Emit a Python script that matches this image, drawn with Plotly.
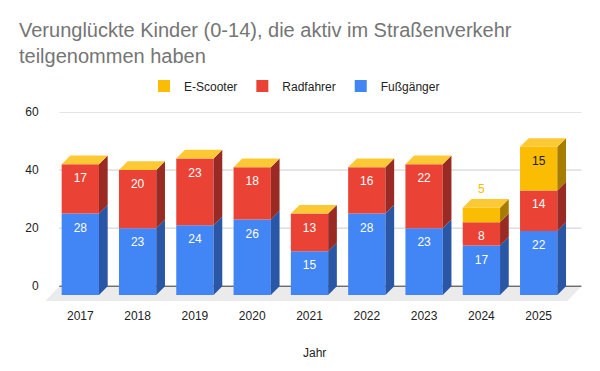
import plotly.graph_objects as go

# ---------------- data ----------------
years = ["2017", "2018", "2019", "2020", "2021", "2022", "2023", "2024", "2025"]
fussgaenger = [28, 23, 24, 26, 15, 28, 23, 17, 22]
radfahrer = [17, 20, 23, 18, 13, 16, 22, 8, 14]
escooter = [0, 0, 0, 0, 0, 0, 0, 5, 15]
y_ticks = [0, 20, 40, 60]

series_names = ["Fußgänger", "Radfahrer", "E-Scooter"]
series_values = [fussgaenger, radfahrer, escooter]

# ---------------- style ----------------
front_colors = ["#4285f4", "#ea4335", "#fbbc04"]
side_colors = ["#2a56a6", "#992b24", "#a67d00"]
label_colors = ["#ffffff", "#ffffff", "#202020"]
top_color = "#fcc934"
FONT = "Liberation Sans, Arial, sans-serif"

# the page body has an 8px default margin; the figure fills the rest of the window
W, H = 592, 363

BAR_W = 0.651          # front face width (category units)
DX = 0.152             # 3D depth, x (category units)
DY = 3.0               # 3D depth, y (value units)
FLOOR_DX = 0.245
FLOOR_DY = 5.1
BACK_LEFT = -0.366
BACK_RIGHT = 8.747
LABEL_OFF = 5.2        # label centre below a segment's front top
MIN_INSIDE = 5.5       # segments smaller than this get their label above

xs = list(range(len(years)))
fig = go.Figure()

# cumulative bases
bases = []
cum = [0] * len(years)
for vals in series_values:
    bases.append(cum[:])
    cum = [c + v for c, v in zip(cum, vals)]
totals = cum

# front faces
for k, (name, vals) in enumerate(zip(series_names, series_values)):
    fig.add_trace(go.Bar(
        x=xs, y=vals, base=[b - DY for b in bases[k]], width=BAR_W,
        name=name, marker=dict(color=front_colors[k], line=dict(width=0)),
        legendrank=10 - k, hoverinfo="skip",
    ))

# side faces
for k, vals in enumerate(series_values):
    px, py = [], []
    for i in xs:
        if vals[i] <= 0:
            continue
        xr = i + BAR_W / 2
        b = bases[k][i] - DY
        t = b + vals[i]
        px += [xr, xr + DX, xr + DX, xr, xr, None]
        py += [b, b + DY, t + DY, t, b, None]
    fig.add_trace(go.Scatter(
        x=px, y=py, mode="lines", fill="toself", fillcolor=side_colors[k],
        line=dict(width=0, color=side_colors[k]), showlegend=False, hoverinfo="skip",
    ))

# top faces
tx, ty = [], []
for i in xs:
    xl = i - BAR_W / 2
    xr = i + BAR_W / 2
    T = totals[i] - DY
    tx += [xl, xl + DX, xr + DX, xr, xl, None]
    ty += [T, T + DY, T + DY, T, T, None]
fig.add_trace(go.Scatter(
    x=tx, y=ty, mode="lines", fill="toself", fillcolor=top_color,
    line=dict(width=0, color=top_color), showlegend=False, hoverinfo="skip",
))

# value labels
for k, vals in enumerate(series_values):
    lx, ly, lt, lc = [], [], [], []
    for i in xs:
        v = vals[i]
        if v <= 0:
            continue
        top_front = bases[k][i] + v - DY
        lx.append(i)
        lt.append(str(v))
        if v < MIN_INSIDE:
            ly.append(totals[i] + 3.0)
            lc.append(front_colors[k])
        else:
            ly.append(top_front - LABEL_OFF)
            lc.append(label_colors[k])
    fig.add_trace(go.Scatter(
        x=lx, y=ly, mode="text", text=lt,
        textfont=dict(family=FONT, size=12, color=lc),
        showlegend=False, hoverinfo="skip",
    ))

# floor, gridlines (background)
shapes = [dict(
    type="path", xref="x", yref="y", layer="below",
    path=(f"M{BACK_LEFT},0 L{BACK_RIGHT},0 L{BACK_RIGHT - FLOOR_DX},{-FLOOR_DY} "
          f"L{BACK_LEFT - FLOOR_DX},{-FLOOR_DY} Z"),
    fillcolor="#ebebeb", line=dict(width=0),
)]
for t in y_ticks:
    shapes.append(dict(
        type="line", xref="x", yref="y", layer="below",
        x0=BACK_LEFT, x1=BACK_RIGHT, y0=t, y1=t,
        line=dict(color="#333333" if t == 0 else "#cccccc", width=1),
    ))

fig.update_layout(
    width=W, height=H,
    margin=dict(l=38, r=18, t=104, b=70, autoexpand=False),
    paper_bgcolor="white", plot_bgcolor="white",
    barmode="overlay",
    font=dict(family=FONT, size=12, color="#222222"),
    title=dict(
        text="Verunglückte Kinder (0-14), die aktiv im Straßenverkehr<br>teilgenommen haben",
        x=11 / W, xanchor="left", xref="container",
        y=1 - 29 / H, yanchor="top", yref="container",
        font=dict(family=FONT, size=20, color="#757575"),
    ),
    legend=dict(
        orientation="h", x=136 / W, xanchor="left", y=1 - 78 / H, yanchor="middle",
        xref="container", yref="container",
        font=dict(family=FONT, size=12, color="#222222"),
        bgcolor="rgba(0,0,0,0)",
    ),
    shapes=shapes,
    annotations=[dict(
        text="Jahr", x=0.5, xref="paper", y=-0.275, yref="paper",
        yanchor="middle", showarrow=False,
        font=dict(family=FONT, size=12, color="#222222"),
    )],
    xaxis=dict(
        range=[-0.599, 8.756], tickvals=xs, ticktext=years,
        showgrid=False, zeroline=False, showline=False,
        ticks="outside", ticklen=4, tickcolor="rgba(0,0,0,0)",
        tickfont=dict(family=FONT, size=12, color="#222222"), fixedrange=True,
    ),
    yaxis=dict(
        range=[-5.1, 60], tickvals=y_ticks,
        showgrid=False, zeroline=False, showline=False,
        ticks="outside", ticklen=4, tickcolor="rgba(0,0,0,0)",
        tickfont=dict(family=FONT, size=12, color="#222222"), fixedrange=True,
    ),
    showlegend=True,
)

fig.write_html("out.html")
